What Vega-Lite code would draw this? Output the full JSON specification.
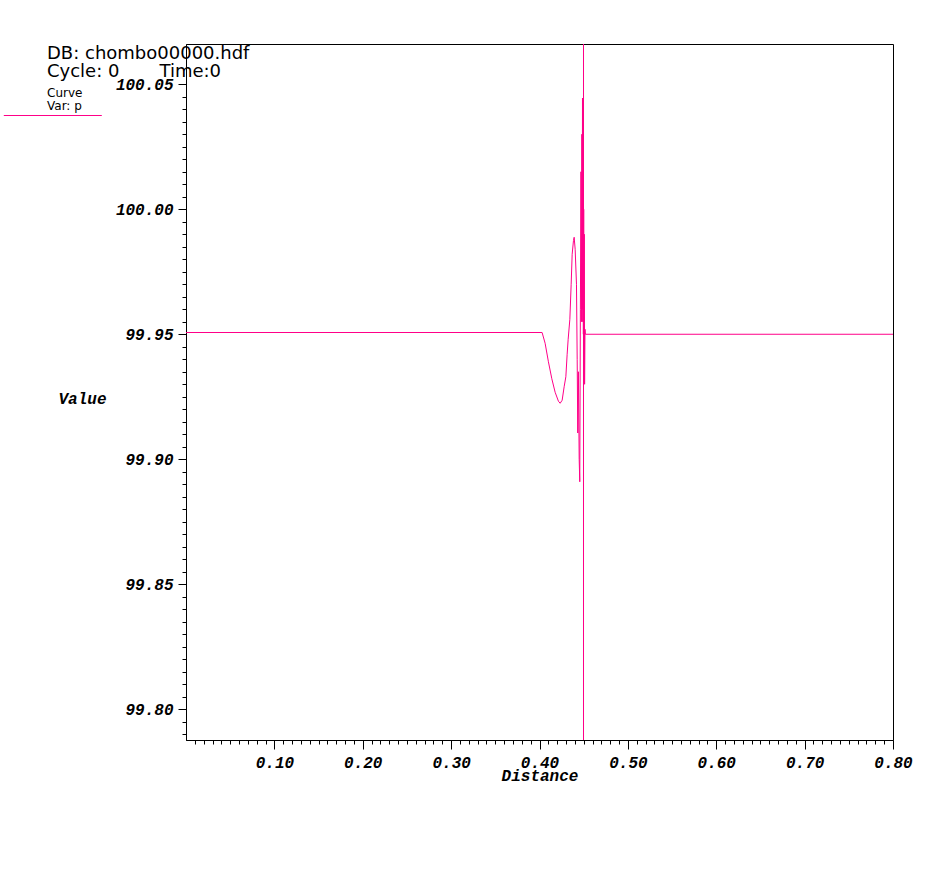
{
  "$schema": "https://vega.github.io/schema/vega-lite/v6.json",
  "autosize": "none",
  "width": 707,
  "height": 696,
  "padding": {"left": 186, "top": 44, "right": 48, "bottom": 133},
  "background": "white",
  "config": {
    "view": {"stroke": "black", "strokeWidth": 1},
    "axis": {"grid": false, "domainColor": "black", "tickColor": "black", "labelColor": "black", "titleColor": "black"}
  },
  "title": {
    "text": ["DB: chombo00000.hdf", "Cycle: 0\u00a0\u00a0\u00a0\u00a0\u00a0\u00a0\u00a0Time:0"],
    "subtitle": ["Curve", "Var: p"],
    "anchor": "start",
    "frame": "group",
    "orient": "top",
    "offset": 0,
    "dx": -139,
    "dy": 68,
    "font": "DejaVu Sans",
    "fontSize": 18,
    "fontWeight": "normal",
    "lineHeight": 18,
    "color": "black",
    "subtitleFont": "DejaVu Sans",
    "subtitleFontSize": 12,
    "subtitleFontWeight": "normal",
    "subtitleLineHeight": 13,
    "subtitleColor": "black",
    "subtitlePadding": 7
  },
  "layer": [
    {
      "data": {"values": [
        {"distance": 0.0, "value": 99.9507},
        {"distance": 0.40295, "value": 99.9507},
        {"distance": 0.40635, "value": 99.9464},
        {"distance": 0.41009, "value": 99.9390},
        {"distance": 0.41395, "value": 99.9322},
        {"distance": 0.41769, "value": 99.9268},
        {"distance": 0.42143, "value": 99.9232},
        {"distance": 0.42336, "value": 99.9224},
        {"distance": 0.42562, "value": 99.9236},
        {"distance": 0.42789, "value": 99.9290},
        {"distance": 0.42982, "value": 99.9330},
        {"distance": 0.43129, "value": 99.9420},
        {"distance": 0.43243, "value": 99.9480},
        {"distance": 0.43435, "value": 99.9560},
        {"distance": 0.43583, "value": 99.9700},
        {"distance": 0.43696, "value": 99.9820},
        {"distance": 0.43844, "value": 99.9875},
        {"distance": 0.43923, "value": 99.9888},
        {"distance": 0.44036, "value": 99.9840},
        {"distance": 0.44184, "value": 99.9700},
        {"distance": 0.44263, "value": 99.9400},
        {"distance": 0.44331, "value": 99.9105},
        {"distance": 0.44399, "value": 99.9350},
        {"distance": 0.44490, "value": 99.9000},
        {"distance": 0.44558, "value": 99.8910},
        {"distance": 0.44626, "value": 99.9600},
        {"distance": 0.44694, "value": 100.0150},
        {"distance": 0.44739, "value": 99.9550},
        {"distance": 0.44796, "value": 100.0300},
        {"distance": 0.44830, "value": 99.9600},
        {"distance": 0.44864, "value": 100.0445},
        {"distance": 0.44898, "value": 99.9550},
        {"distance": 0.44932, "value": 100.0100},
        {"distance": 0.44966, "value": 99.9500},
        {"distance": 0.45000, "value": 100.0000},
        {"distance": 0.45034, "value": 99.9450},
        {"distance": 0.45068, "value": 99.9900},
        {"distance": 0.45102, "value": 99.9300},
        {"distance": 0.45147, "value": 99.9520},
        {"distance": 0.45193, "value": 99.9500},
        {"distance": 0.8, "value": 99.9500}
      ]},
      "mark": {"type": "line", "strokeWidth": 1, "clip": true},
      "encoding": {
        "x": {
          "field": "distance", "type": "quantitative",
          "scale": {"domain": [0, 0.8], "nice": false, "zero": false},
          "axis": {
            "values": [0.01,0.02,0.03,0.04,0.05,0.06,0.07,0.08,0.09,0.1,0.11,0.12,0.13,0.14,0.15,0.16,0.17,0.18,0.19,0.2,0.21,0.22,0.23,0.24,0.25,0.26,0.27,0.28,0.29,0.3,0.31,0.32,0.33,0.34,0.35,0.36,0.37,0.38,0.39,0.4,0.41,0.42,0.43,0.44,0.45,0.46,0.47,0.48,0.49,0.5,0.51,0.52,0.53,0.54,0.55,0.56,0.57,0.58,0.59,0.6,0.61,0.62,0.63,0.64,0.65,0.66,0.67,0.68,0.69,0.7,0.71,0.72,0.73,0.74,0.75,0.76,0.77,0.78,0.79,0.8],
            "tickCount": 500,
            "labelExpr": "abs(datum.value*10 - round(datum.value*10)) < 0.001 ? format(datum.value, '.2f') : ''",
            "labelOverlap": false,
            "labelFlush": false,
            "labelFont": "Liberation Mono",
            "labelFontSize": 16,
            "labelFontWeight": "bold",
            "labelFontStyle": "italic",
            "labelPadding": 5,
            "tickSize": {"condition": {"test": "abs(datum.value*10 - round(datum.value*10)) < 0.001", "value": 9}, "value": 4},
            "title": "Distance",
            "titleFont": "Liberation Mono",
            "titleFontSize": 16,
            "titleFontWeight": "bold",
            "titleFontStyle": "italic",
            "titleBaseline": "alphabetic",
            "titleY": 40
          }
        },
        "y": {
          "field": "value", "type": "quantitative",
          "scale": {"domain": [99.7877, 100.0661], "nice": false, "zero": false},
          "axis": {
            "values": [99.79,99.795,99.8,99.805,99.81,99.815,99.82,99.825,99.83,99.835,99.84,99.845,99.85,99.855,99.86,99.865,99.87,99.875,99.88,99.885,99.89,99.895,99.9,99.905,99.91,99.915,99.92,99.925,99.93,99.935,99.94,99.945,99.95,99.955,99.96,99.965,99.97,99.975,99.98,99.985,99.99,99.995,100,100.005,100.01,100.015,100.02,100.025,100.03,100.035,100.04,100.045,100.05],
            "tickCount": 500,
            "labelExpr": "abs(datum.value*20 - round(datum.value*20)) < 0.01 ? format(datum.value, '.2f') : ''",
            "labelOverlap": false,
            "labelFlush": false,
            "labelFont": "Liberation Mono",
            "labelFontSize": 16,
            "labelFontWeight": "bold",
            "labelFontStyle": "italic",
            "labelPadding": 5,
            "labelBaseline": "middle",
            "tickSize": {"condition": {"test": "abs(datum.value*20 - round(datum.value*20)) < 0.01", "value": 8}, "value": 4},
            "title": "Value",
            "titleFont": "Liberation Mono",
            "titleFontSize": 16,
            "titleFontWeight": "bold",
            "titleFontStyle": "italic",
            "titleAngle": 0,
            "titleAlign": "left",
            "titleBaseline": "alphabetic",
            "titleX": -128,
            "titleY": 359
          }
        },
        "color": {
          "datum": "Var: p",
          "type": "nominal",
          "scale": {"range": ["#ff0088"]},
          "legend": {
            "orient": "none",
            "legendX": -182.7,
            "legendY": 22,
            "title": null,
            "padding": 0,
            "symbolType": "stroke",
            "symbolSize": 9604,
            "symbolStrokeWidth": 1,
            "symbolStrokeColor": "#ff0088",
            "labelExpr": "''",
            "labelOffset": 0
          }
        }
      }
    },
    {
      "data": {"values": [{"distance": 0.4498}]},
      "mark": {"type": "rule", "color": "#ff0088", "strokeWidth": 1},
      "encoding": {
        "x": {"field": "distance", "type": "quantitative"}
      }
    }
  ]
}
